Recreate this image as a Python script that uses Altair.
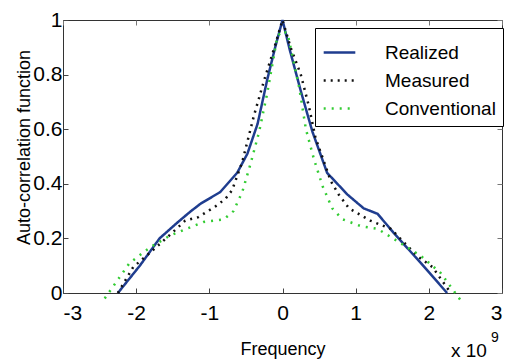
import altair as alt
import pandas as pd

# Frequency values are in units of 1e9
realized_x = [-2.25, -1.95, -1.68, -1.45, -1.26, -1.12, -0.85, -0.62, -0.48, -0.34, -0.21, -0.1, 0.0,
              0.1, 0.25, 0.41, 0.61, 0.89, 1.11, 1.3, 1.52, 1.89, 2.25]
realized_y = [0.0, 0.1, 0.2, 0.255, 0.298, 0.327, 0.37, 0.44, 0.51, 0.62, 0.78, 0.9, 1.0,
              0.89, 0.74, 0.59, 0.44, 0.36, 0.31, 0.29, 0.22, 0.11, 0.0]

measured_x = [-2.25, -2.04, -1.8, -1.55, -1.33, -1.15, -0.9, -0.78, -0.69, -0.55, -0.39, -0.25, -0.11, 0.0,
              0.11, 0.25, 0.36, 0.45, 0.66, 0.77, 0.91, 1.2, 1.48, 1.84, 2.05, 2.3]
measured_y = [0.0, 0.095, 0.15, 0.21, 0.265, 0.278, 0.32, 0.345, 0.376, 0.48, 0.65, 0.78, 0.9, 1.0,
              0.9, 0.8, 0.685, 0.57, 0.41, 0.36, 0.31, 0.265, 0.235, 0.136, 0.095, 0.0]

conventional_x = [-2.43, -2.09, -1.81, -1.54, -1.31, -1.08, -0.8, -0.67, -0.55, -0.44, -0.32, -0.21, -0.07, 0.0,
                  0.07, 0.23, 0.32, 0.43, 0.55, 0.68, 0.82, 1.07, 1.3, 1.57, 1.89, 2.16, 2.43]
conventional_y = [-0.02, 0.11, 0.167, 0.21, 0.235, 0.26, 0.27, 0.3, 0.37, 0.47, 0.59, 0.73, 0.94, 0.96,
                  0.95, 0.75, 0.6, 0.49, 0.39, 0.31, 0.27, 0.245, 0.235, 0.19, 0.136, 0.074, -0.025]

series_names = ["Realized", "Measured", "Conventional"]
series_colors = ["#1f3d8f", "#111111", "#33cc33"]
x_ticks = [-3, -2, -1, 0, 1, 2, 3]
y_ticks = [0, 0.2, 0.4, 0.6, 0.8, 1]

rows = []
for name, xs, ys in zip(series_names,
                        [realized_x, measured_x, conventional_x],
                        [realized_y, measured_y, conventional_y]):
    for i, (xv, yv) in enumerate(zip(xs, ys)):
        rows.append({"series": name, "freq": xv, "acf": yv, "idx": i})
df = pd.DataFrame(rows)

FONT = "Liberation Sans"
x_scale = alt.Scale(domain=[-3, 3], nice=False)
y_scale = alt.Scale(domain=[0, 1], nice=False)

legend = alt.Legend(title=None, orient="none", legendX=252, legendY=8,
                    symbolType="stroke", symbolSize=1000, symbolStrokeWidth=2.5,
                    labelFont=FONT, labelFontSize=19, labelColor="black",
                    labelOffset=28, rowPadding=-2, padding=7,
                    strokeColor="black", fillColor="white")

lines = alt.Chart(df).mark_line(strokeWidth=2.5, strokeCap="butt").encode(
    x=alt.X("freq:Q", scale=x_scale,
            axis=alt.Axis(values=x_ticks, labelExpr="'' + datum.value", title="Frequency",
                          offset=-5, tickSize=5, domain=False, grid=False,
                          labelPadding=9, labelFontSize=21, labelFont=FONT, labelColor="black",
                          tickColor="#444", titleFont=FONT, titleFontSize=18, titleFontWeight="normal",
                          titleColor="black", titleY=61, titleBaseline="middle")),
    y=alt.Y("acf:Q", scale=y_scale,
            axis=alt.Axis(values=y_ticks, labelExpr="'' + datum.value", title="Auto-correlation function",
                          offset=-5, tickSize=5, domain=False, grid=False,
                          labelPadding=1, labelFontSize=21, labelFont=FONT, labelColor="black",
                          tickColor="#444", titleFont=FONT, titleFontSize=18, titleFontWeight="normal",
                          titleColor="black", titleX=-44, titleY=127, titleBaseline="middle")),
    color=alt.Color("series:N", scale=alt.Scale(domain=series_names, range=series_colors), legend=legend),
    strokeDash=alt.StrokeDash("series:N",
                              scale=alt.Scale(domain=series_names, range=[[1, 0], [2, 5], [2, 6]]),
                              legend=legend),
    order="idx:Q",
)

mirror = alt.Chart(df).mark_line(opacity=0).encode(
    x=alt.X("freq:Q", scale=x_scale,
            axis=alt.Axis(orient="top", values=x_ticks, labels=False, title=None, offset=-5,
                          tickSize=5, domain=False, grid=False, tickColor="#777")),
    y=alt.Y("acf:Q", scale=y_scale,
            axis=alt.Axis(orient="right", values=y_ticks, labels=False, title=None, offset=-5,
                          tickSize=5, domain=False, grid=False, tickColor="#777")),
    detail="series:N",
)

exp_base = alt.Chart(pd.DataFrame({"t": ["x 10"]})).mark_text(
    font=FONT, fontSize=19, align="left", baseline="middle", color="black"
).encode(x=alt.value(388), y=alt.value(331), text="t:N")

exp_sup = alt.Chart(pd.DataFrame({"t": ["9"]})).mark_text(
    font=FONT, fontSize=14, align="left", baseline="middle", color="black"
).encode(x=alt.value(428), y=alt.value(318), text="t:N")

chart = alt.layer(mirror, lines, exp_base, exp_sup).resolve_axis(
    x="independent", y="independent"
).properties(
    width=439, height=273,
    padding={"left": 63, "top": 20, "right": 6, "bottom": 67},
    autosize=alt.AutoSizeParams(type="none"),
    background="white",
).configure_view(stroke="#333", strokeWidth=1)

chart.save("out.html", embed_options={"renderer": "svg", "actions": False})
